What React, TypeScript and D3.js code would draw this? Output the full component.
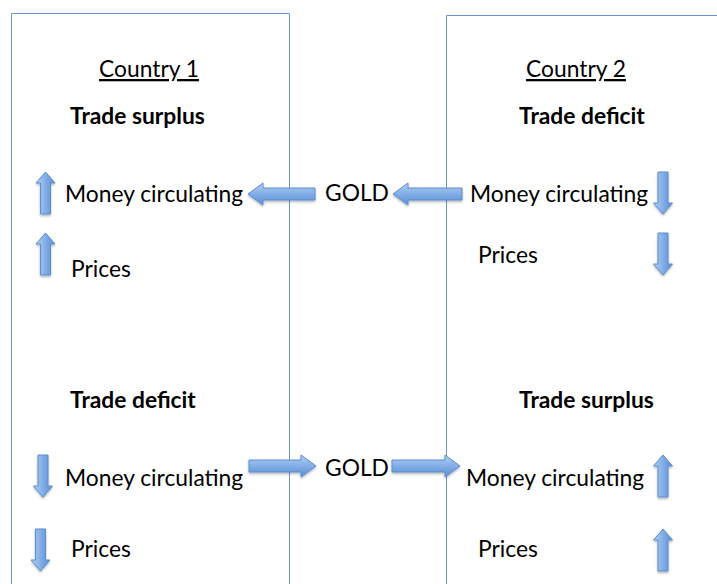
import React, { useEffect, useRef } from 'react';
import * as d3 from 'd3';

// Gold standard adjustment: two countries, two scenarios (rows)
const countries = ['Country 1', 'Country 2'];
const balanceCountry1 = ['Trade surplus', 'Trade deficit'];
const balanceCountry2 = ['Trade deficit', 'Trade surplus'];
const indicators = ['Money circulating', 'Prices'];
// +1 = rising, -1 = falling (same for every indicator in a row)
const trendCountry1 = [1, -1];
const trendCountry2 = [-1, 1];
// gold flows toward the surplus country: -1 = leftwards, +1 = rightwards
const goldDirection = [-1, 1];
const goldLabel = 'GOLD';

const WIDTH = 717;
const HEIGHT = 584;
const FONT = 'Lato, "Open Sans", sans-serif';
const FONT_SIZE = 22.8;

// layout (pixels)
const boxLeft = [11, 446];
const boxRight = [289, WIDTH + 10];
const boxTop = [13, 15];
const countryX = [149, 576];
const countryY = 77;
const balanceX = [70, 519];
const balanceY = [124, 408];
// indicator label x per country / row / indicator
const labelX = [
  [[65, 71], [65, 71]],
  [[470, 478], [466, 478]],
];
const labelY = [
  [[202, 277], [486, 557]],
  [[202, 263], [486, 557]],
];
// vertical arrow centre x and top y
const trendX = [
  [[45.5, 45.5], [43, 40.5]],
  [[663, 663], [663, 663]],
];
const trendTop = [[172, 233], [455, 529]];
const trendLen = 42;
// horizontal arrows, spans between the two labels
const flowY = [194, 466];
const flowSpans = [
  [[248, 315], [393, 462]],
  [[249, 316], [392, 460]],
];
const goldX = 325;
const goldY = [201, 476];

const App: React.FC = () => {
  const svgRef = useRef<SVGSVGElement>(null);

  useEffect(() => {
    if (!svgRef.current) return;
    const svg = d3.select(svgRef.current);
    svg.selectAll('*').remove();

    svg.attr('width', WIDTH).attr('height', HEIGHT);

    const defs = svg.append('defs');
    const gradV = defs.append('linearGradient')
      .attr('id', 'grad-v')
      .attr('x1', 0).attr('y1', 0).attr('x2', 0).attr('y2', 1);
    gradV.append('stop').attr('offset', '0%').attr('stop-color', '#b3d0f3');
    gradV.append('stop').attr('offset', '55%').attr('stop-color', '#7eaae4');
    gradV.append('stop').attr('offset', '100%').attr('stop-color', '#5b8fd4');

    const gradH = defs.append('linearGradient')
      .attr('id', 'grad-h')
      .attr('x1', 0).attr('y1', 0).attr('x2', 1).attr('y2', 0);
    gradH.append('stop').attr('offset', '0%').attr('stop-color', '#b3d0f3');
    gradH.append('stop').attr('offset', '55%').attr('stop-color', '#7eaae4');
    gradH.append('stop').attr('offset', '100%').attr('stop-color', '#5b8fd4');

    const shadow = defs.append('filter')
      .attr('id', 'shadow')
      .attr('x', '-30%').attr('y', '-30%')
      .attr('width', '160%').attr('height', '160%');
    shadow.append('feDropShadow')
      .attr('dx', 0).attr('dy', 1.5)
      .attr('stdDeviation', 1)
      .attr('flood-color', '#000')
      .attr('flood-opacity', 0.3);

    const line = d3.line<[number, number]>();

    // Country boxes
    countries.forEach((_, i) => {
      svg.append('path')
        .attr('d', line([
          [boxLeft[i] + 0.5, HEIGHT + 5],
          [boxLeft[i] + 0.5, boxTop[i] + 0.5],
          [boxRight[i] + 0.5, boxTop[i] + 0.5],
          [boxRight[i] + 0.5, HEIGHT + 5],
        ]))
        .attr('fill', 'none')
        .attr('stroke', '#6a96cd')
        .attr('stroke-width', 1);
    });

    const text = svg.append('g')
      .style('font-family', FONT)
      .style('font-size', `${FONT_SIZE}px`)
      .attr('fill', '#000');

    // Country headings
    text.selectAll('text.country')
      .data(countries)
      .join('text')
      .attr('class', 'country')
      .attr('x', (_, i) => countryX[i])
      .attr('y', countryY)
      .attr('text-anchor', 'middle')
      .style('text-decoration', 'underline')
      .text(d => d);

    // Trade balance labels
    [balanceCountry1, balanceCountry2].forEach((balances, c) => {
      text.selectAll(`text.balance-${c}`)
        .data(balances)
        .join('text')
        .attr('class', `balance-${c}`)
        .attr('x', balanceX[c])
        .attr('y', (_, r) => balanceY[r])
        .style('font-weight', 700)
        .text(d => d);
    });

    // Indicator labels and trend arrows
    const arrowUpDown = (cx: number, top: number, dir: number) => {
      const hw = 9.5; // head half width
      const sw = 5;   // shaft half width
      const hl = 11;  // head length
      const bottom = top + trendLen;
      const pts: [number, number][] = dir > 0
        ? [
          [cx, top], [cx + hw, top + hl], [cx + sw, top + hl], [cx + sw, bottom],
          [cx - sw, bottom], [cx - sw, top + hl], [cx - hw, top + hl],
        ]
        : [
          [cx, bottom], [cx + hw, bottom - hl], [cx + sw, bottom - hl], [cx + sw, top],
          [cx - sw, top], [cx - sw, bottom - hl], [cx - hw, bottom - hl],
        ];
      return line(pts) + 'Z';
    };

    const arrows = svg.append('g').attr('filter', 'url(#shadow)');

    [trendCountry1, trendCountry2].forEach((trends, c) => {
      trends.forEach((dir, r) => {
        indicators.forEach((label, k) => {
          text.append('text')
            .attr('x', labelX[c][r][k])
            .attr('y', labelY[c][r][k])
            .text(label);

          arrows.append('path')
            .attr('d', arrowUpDown(trendX[c][r][k], trendTop[r][k], dir))
            .attr('fill', 'url(#grad-h)')
            .attr('stroke', '#5b8ed0')
            .attr('stroke-width', 1);
        });
      });
    });

    // Gold flow arrows
    const arrowSide = (x0: number, x1: number, cy: number, dir: number) => {
      const hh = 11;  // head half height
      const sh = 6;   // shaft half height
      const hl = 15;  // head length
      const tip = dir > 0 ? x1 : x0;
      const tail = dir > 0 ? x0 : x1;
      const base = tip - dir * hl;
      const pts: [number, number][] = [
        [tail, cy - sh], [base, cy - sh], [base, cy - hh], [tip, cy],
        [base, cy + hh], [base, cy + sh], [tail, cy + sh],
      ];
      return line(pts) + 'Z';
    };

    goldDirection.forEach((dir, r) => {
      flowSpans[r].forEach(([x0, x1]) => {
        arrows.append('path')
          .attr('d', arrowSide(x0, x1, flowY[r], dir))
          .attr('fill', 'url(#grad-v)')
          .attr('stroke', '#5b8ed0')
          .attr('stroke-width', 1);
      });
      text.append('text')
        .attr('x', goldX)
        .attr('y', goldY[r])
        .text(goldLabel);
    });
  }, []);

  return (
    <svg
      ref={svgRef}
      style={{ position: 'absolute', left: 0, top: 0, background: '#fff' }}
    />
  );
};

export default App;
